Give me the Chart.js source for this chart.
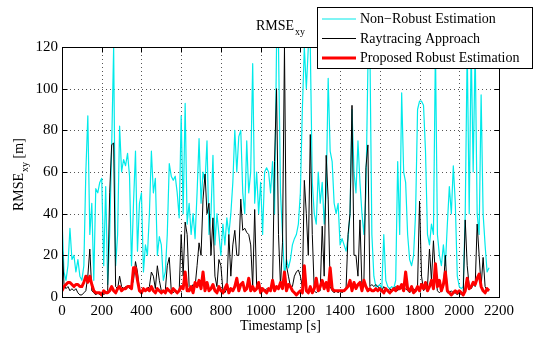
<!DOCTYPE html>
<html lang="en">
<head>
  <meta charset="UTF-8">
  <title>RMSE xy</title>
  <script src="https://cdn.jsdelivr.net/npm/chart.js"></script>
  <style>
    html, body { margin: 0; padding: 0; background: #fff; }
    #wrap { position: relative; width: 534px; height: 337px; }
  </style>
</head>
<body>
  <div id="wrap"><canvas id="rmseChart"></canvas></div>

  <script>
    // sample spacing of the series below, in seconds
    const step = 10;

    // RMSE_xy [m], one value every 10 s from t = 0 to 2150 s
    const nonRobust = [
      38,12,8,15,33,18,20,12,18,10,
      8,15,60,87,30,45,8,52,50,55,
      57,15,53,6,30,72,120,15,30,82,
      60,66,63,69,58,15,45,70,22,45,
      50,12,25,20,40,70,50,57,20,29,
      25,8,12,30,64,58,56,58,50,38,
      87,40,93,35,45,30,40,28,50,76,
      45,60,55,75,30,40,68,25,40,30,
      20,35,25,38,30,40,55,80,60,77,
      80,50,40,75,50,60,112,45,60,40,
      55,30,60,62,60,50,65,40,120,120,
      50,30,10,18,14,18,25,28,30,35,
      50,90,120,100,120,120,55,40,35,60,
      45,55,35,50,105,70,65,45,40,45,
      25,28,25,22,28,40,90,60,50,75,
      55,40,30,50,110,120,30,10,5,5,
      6,4,30,8,5,4,5,4,8,65,
      30,98,60,55,30,18,15,20,40,90,
      94,94,92,70,30,25,35,30,120,30,
      20,15,25,15,35,53,40,63,45,10,
      5,4,5,40,120,40,120,60,120,40,
      30,97,40,25,12,14
    ];

    const raytracing = [
      28,6,4,5,3,4,3,4,2,1,
      1,2,3,10,23,3,2,1,2,1,
      2,1,2,3,50,73,74,5,4,10,
      5,4,5,5,4,5,8,17,12,3,
      2,3,3,4,5,12,10,4,15,8,
      3,2,3,15,19,3,2,3,2,3,
      30,10,36,30,5,4,6,5,15,26,
      20,47,59,40,45,20,38,10,5,18,
      15,3,2,4,30,10,25,32,20,20,
      47,32,33,31,30,25,5,42,5,4,
      3,4,3,4,3,4,5,65,100,30,
      5,26,120,15,10,5,5,10,12,13,
      10,5,56,40,20,78,30,3,2,3,
      3,34,10,68,47,5,3,2,3,2,
      3,2,3,4,30,40,92,20,20,10,
      37,5,8,62,73,5,6,5,6,5,
      4,3,5,4,3,4,3,4,5,3,
      5,4,3,4,3,2,3,4,3,5,
      46,10,3,4,5,23,8,27,10,3,
      2,3,5,20,2,2,3,2,2,1,
      2,1,2,37,15,5,4,6,5,35,
      20,5,19,5,3,3
    ];

    const proposed = [
      3,5,6,7,7,6,5,6,6,5,
      5,7,10,7,10,6,3,2,2,2,
      1,3,2,2,3,5,3,2,4,5,
      3,4,4,5,5,4,14,14,8,3,
      2,4,3,4,3,5,3,2,4,3,
      2,3,2,4,3,2,4,3,2,3,
      5,4,12,3,3,5,2,7,5,8,
      4,12,3,7,3,4,6,3,2,5,
      3,2,4,6,2,4,3,5,9,3,
      6,7,3,4,9,3,5,3,4,7,
      2,4,3,2,4,3,8,3,5,4,
      7,4,12,3,6,5,3,2,1,2,
      3,2,15,3,2,5,2,4,9,3,
      5,8,4,7,3,14,4,3,3,3,
      3,3,3,4,5,8,3,7,4,6,
      7,3,8,5,3,4,3,3,4,3,
      4,3,2,4,3,2,3,4,3,5,
      4,6,3,12,4,3,5,2,3,5,
      3,6,4,7,3,5,8,4,16,5,
      8,3,6,12,3,2,1,2,3,2,
      3,2,1,3,9,4,5,7,6,9,
      11,5,3,2,4,3
    ];

    const xTicks = [0, 200, 400, 600, 800, 1000, 1200, 1400, 1600, 1800, 2000, 2200];
    const yTicks = [0, 20, 40, 60, 80, 100, 120];
    const seriesNames = ['Non\u2212Robust Estimation', 'Raytracing Approach', 'Proposed Robust Estimation'];
    const seriesColors = ['#00eaea', '#000000', '#ff0000'];
    const seriesWidths = [1.2, 1, 3];

    const toPoints = values => values.map((v, i) => ({ x: i * step, y: v }));

    const serif = 'Liberation Serif, Times New Roman, serif';

    // dotted grid, box frame with inward ticks, titles and the legend box
    const matlabLook = {
      id: 'matlabLook',
      beforeDatasetsDraw(chart) {
        const { ctx, chartArea: a, scales: { x, y } } = chart;
        ctx.save();
        ctx.strokeStyle = '#555';
        ctx.lineWidth = 1;
        ctx.setLineDash([1, 3]);
        ctx.beginPath();
        xTicks.slice(1, -1).forEach(v => {
          const px = Math.round(x.getPixelForValue(v)) + 0.5;
          ctx.moveTo(px, a.top); ctx.lineTo(px, a.bottom);
        });
        yTicks.slice(1, -1).forEach(v => {
          const py = Math.round(y.getPixelForValue(v)) + 0.5;
          ctx.moveTo(a.left, py); ctx.lineTo(a.right, py);
        });
        ctx.stroke();
        ctx.restore();
      },
      afterDatasetsDraw(chart) {
        const { ctx, chartArea: a, scales: { x, y } } = chart;
        const L = Math.round(a.left) + 0.5, R = Math.round(a.right) + 0.5;
        const T = Math.round(a.top) + 0.5, B = Math.round(a.bottom) + 0.5;
        ctx.save();
        ctx.strokeStyle = '#000';
        ctx.lineWidth = 1;
        ctx.strokeRect(L, T, R - L, B - T);
        ctx.beginPath();
        xTicks.forEach(v => {
          const px = Math.round(x.getPixelForValue(v)) + 0.5;
          ctx.moveTo(px, B); ctx.lineTo(px, B - 5);
          ctx.moveTo(px, T); ctx.lineTo(px, T + 5);
        });
        yTicks.forEach(v => {
          const py = Math.round(y.getPixelForValue(v)) + 0.5;
          ctx.moveTo(L, py); ctx.lineTo(L + 5, py);
          ctx.moveTo(R, py); ctx.lineTo(R - 5, py);
        });
        ctx.stroke();
        ctx.restore();
      },
      afterDraw(chart) {
        const { ctx } = chart;
        ctx.save();
        ctx.fillStyle = '#000';

        // title RMSE_xy
        ctx.font = '14px ' + serif;
        ctx.textBaseline = 'alphabetic';
        const w1 = ctx.measureText('RMSE').width;
        ctx.fillText('RMSE', 256, 30);
        ctx.font = '10px ' + serif;
        ctx.fillText('xy', 256 + w1 + 1, 35);

        // y-axis title RMSE_xy [m]
        ctx.save();
        ctx.translate(23, 211);
        ctx.rotate(-Math.PI / 2);
        ctx.font = '14px ' + serif;
        ctx.fillText('RMSE', 0, 0);
        let off = ctx.measureText('RMSE').width + 1;
        ctx.font = '10px ' + serif;
        ctx.fillText('xy', off, 5);
        off += ctx.measureText('xy').width;
        ctx.font = '14px ' + serif;
        ctx.fillText(' [m]', off, 0);
        ctx.restore();

        // legend box
        const bx = 317.5, by = 7.5, bw = 215, bh = 61;
        ctx.fillStyle = '#fff';
        ctx.fillRect(bx, by, bw, bh);
        ctx.strokeStyle = '#000';
        ctx.lineWidth = 1;
        ctx.strokeRect(bx, by, bw, bh);
        const rows = [19, 38.5, 58];
        ctx.font = '14px ' + serif;
        ctx.textBaseline = 'middle';
        seriesNames.forEach((name, i) => {
          ctx.strokeStyle = seriesColors[i];
          ctx.lineWidth = seriesWidths[i];
          ctx.beginPath();
          ctx.moveTo(322, rows[i]); ctx.lineTo(356, rows[i]);
          ctx.stroke();
          ctx.fillStyle = '#000';
          ctx.fillText(name, 360, rows[i] + 0.5);
        });
        ctx.restore();
      }
    };

    const ctx = document.getElementById('rmseChart').getContext('2d');
    new Chart(ctx, {
      type: 'line',
      data: {
        datasets: [
          { label: seriesNames[2], data: toPoints(proposed), borderColor: seriesColors[2], borderWidth: seriesWidths[2], order: 0 },
          { label: seriesNames[1], data: toPoints(raytracing), borderColor: seriesColors[1], borderWidth: seriesWidths[1], order: 1 },
          { label: seriesNames[0], data: toPoints(nonRobust), borderColor: seriesColors[0], borderWidth: seriesWidths[0], order: 2 }
        ]
      },
      options: {
        responsive: true,
        maintainAspectRatio: false,
        animation: false,
        elements: {
          point: { radius: 0 },
          line: { tension: 0, borderJoinStyle: 'round' }
        },
        layout: { padding: { left: 0, right: 35, top: 47, bottom: 0 } },
        scales: {
          x: {
            type: 'linear',
            min: 0,
            max: 2200,
            afterBuildTicks: s => { s.ticks = xTicks.map(v => ({ value: v })); },
            afterFit: s => { s.height = 40; },
            grid: { display: false, drawTicks: false },
            border: { display: false },
            ticks: {
              color: '#000', font: { family: serif, size: 15 }, padding: 5,
              maxRotation: 0, autoSkip: false, callback: v => String(v)
            },
            title: { display: true, text: 'Timestamp [s]', color: '#000', font: { family: serif, size: 14 }, padding: { top: 0, bottom: 2 } }
          },
          y: {
            min: 0,
            max: 120,
            afterBuildTicks: s => { s.ticks = yTicks.map(v => ({ value: v })); },
            afterFit: s => { s.width = 62; },
            grid: { display: false, drawTicks: false },
            border: { display: false },
            ticks: { color: '#000', font: { family: serif, size: 15 }, padding: 4, callback: v => String(v) }
          }
        },
        plugins: {
          legend: { display: false },
          tooltip: { enabled: false }
        }
      },
      plugins: [matlabLook]
    });
  </script>
</body>
</html>
